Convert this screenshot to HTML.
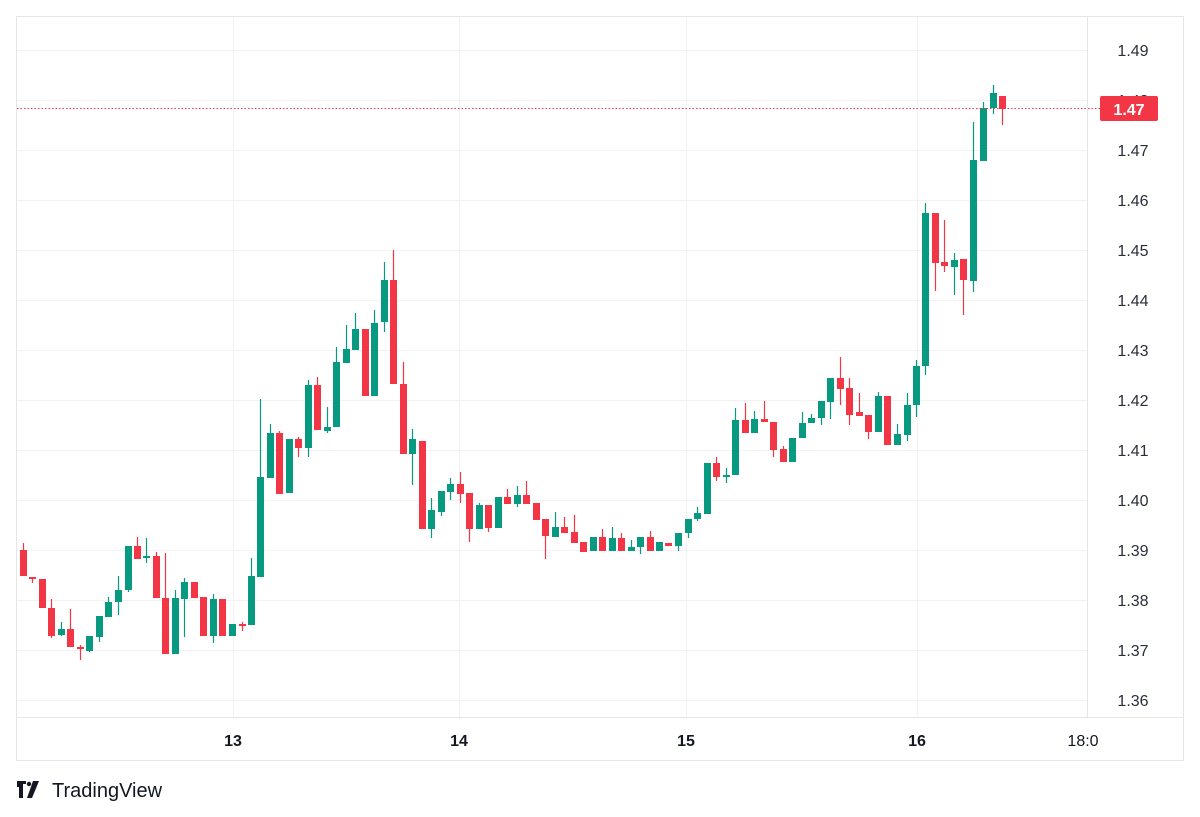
<!DOCTYPE html>
<html><head><meta charset="utf-8"><style>
html,body{margin:0;padding:0;background:#fff;width:1200px;height:817px;overflow:hidden}
svg{display:block}
text{font-family:"Liberation Sans",sans-serif;}
</style></head><body>
<svg width="1200" height="817" viewBox="0 0 1200 817" xmlns="http://www.w3.org/2000/svg">
<rect x="16.5" y="16.5" width="1167" height="744" fill="#fff" stroke="#e6e6e6"/>
<g stroke="#f2f2f2" stroke-width="1">
<line x1="17" y1="50.5" x2="1087" y2="50.5"/><line x1="17" y1="100.5" x2="1087" y2="100.5"/>
<line x1="17" y1="150.5" x2="1087" y2="150.5"/><line x1="17" y1="200.5" x2="1087" y2="200.5"/>
<line x1="17" y1="250.5" x2="1087" y2="250.5"/><line x1="17" y1="300.5" x2="1087" y2="300.5"/>
<line x1="17" y1="350.5" x2="1087" y2="350.5"/><line x1="17" y1="400.5" x2="1087" y2="400.5"/>
<line x1="17" y1="450.5" x2="1087" y2="450.5"/><line x1="17" y1="500.5" x2="1087" y2="500.5"/>
<line x1="17" y1="550.5" x2="1087" y2="550.5"/><line x1="17" y1="600.5" x2="1087" y2="600.5"/>
<line x1="17" y1="650.5" x2="1087" y2="650.5"/><line x1="17" y1="700.5" x2="1087" y2="700.5"/>
<line x1="233.5" y1="17" x2="233.5" y2="717"/><line x1="459.5" y1="17" x2="459.5" y2="717"/>
<line x1="686.5" y1="17" x2="686.5" y2="717"/><line x1="917.5" y1="17" x2="917.5" y2="717"/>
</g>
<line x1="17" y1="717.5" x2="1183" y2="717.5" stroke="#e6e6e6"/>
<line x1="1087.5" y1="17" x2="1087.5" y2="717" stroke="#e6e6e6"/>
<g id="c"></g>
<line x1="17" y1="108.5" x2="1100" y2="108.5" stroke="#f23645" stroke-dasharray="1.5,2"/>
<g font-size="16" fill="#2a2e39" text-anchor="middle">
<text x="1133" y="56">1.49</text><text x="1133" y="106">1.48</text>
<text x="1133" y="156">1.47</text><text x="1133" y="206">1.46</text>
<text x="1133" y="256">1.45</text><text x="1133" y="306">1.44</text>
<text x="1133" y="356">1.43</text><text x="1133" y="406">1.42</text>
<text x="1133" y="456">1.41</text><text x="1133" y="506">1.40</text>
<text x="1133" y="556">1.39</text><text x="1133" y="606">1.38</text>
<text x="1133" y="656">1.37</text><text x="1133" y="706">1.36</text>
</g>
<rect x="1100" y="96" width="58" height="25" rx="2" fill="#f23645"/>
<text x="1129" y="115" font-size="16" font-weight="bold" fill="#fff" text-anchor="middle">1.47</text>
<g font-size="16" fill="#131722" text-anchor="middle">
<text x="233" y="746" font-weight="bold">13</text>
<text x="459" y="746" font-weight="bold">14</text>
<text x="686" y="746" font-weight="bold">15</text>
<text x="917" y="746" font-weight="bold">16</text>
<text x="1083" y="746">18:0</text>
</g>
<g fill="#131722">
<path d="M17 781h9v3h-3v14h-4v-11h-2z"/>
<circle cx="29" cy="784" r="2.2"/>
<path d="M33 781h6l-7 17h-5z"/>
</g>
<text x="52" y="797" font-size="20" fill="#131722">TradingView</text>
</svg>
<script>
var d=[
[23,'r',550,576,543,576],[32,'r',577,579,577,583],[42,'r',579,608,579,608],[51,'r',608,636,599,638],
[61,'g',629,635,622,636],[70,'r',629,647,609,647],[80,'r',647,649,645,660],[89,'g',636,651,636,652],
[99,'g',616,637,616,642],[108,'g',602,617,597,617],[118,'g',590,602,576,615],[128,'g',546,590,546,592],
[137,'r',546,559,537,559],[146,'g',556,558,538,563],[156,'r',556,598,552,598],[165,'r',598,654,553,654],
[175,'g',598,654,590,654],[184,'g',582,599,578,637],[194,'r',582,598,582,598],[203,'r',597,636,597,636],
[213,'g',599,636,594,643],[222,'r',599,636,599,636],[232,'g',624,636,624,636],[242,'r',624,626,622,631],
[251,'g',576,625,558,625],[260,'g',477,577,399,577],[270,'g',433,478,424,478],[279,'r',433,494,431,494],
[289,'g',439,493,439,493],[298,'r',439,448,437,457],[308,'g',385,448,380,457],[317,'r',385,430,377,430],
[327,'g',427,431,407,433],[336,'g',362,427,347,427],[346,'g',349,363,325,363],[355,'g',329,350,313,350],
[365,'r',329,396,329,396],[374,'g',323,396,310,396],[384,'g',280,322,262,332],[393,'r',280,384,250,384],
[403,'r',384,454,362,454],[412,'g',439,454,429,485],[422,'r',441,529,441,529],[431,'g',510,529,498,538],
[441,'g',491,512,491,516],[450,'g',484,492,478,500],[460,'r',484,494,472,503],[469,'r',493,529,493,542],
[479,'g',505,529,503,529],[488,'r',505,528,505,532],[498,'g',497,528,497,528],[507,'r',497,504,489,504],
[517,'g',495,504,486,507],[526,'r',495,504,481,504],[536,'r',503,520,503,520],[545,'r',519,536,519,559],
[555,'g',527,537,512,537],[564,'r',527,533,517,533],[574,'r',532,543,515,543],[583,'r',542,552,542,552],
[593,'g',537,551,537,551],[602,'r',537,551,529,551],[612,'g',538,551,527,551],[621,'r',538,551,533,551],
[631,'g',547,551,540,551],[640,'g',537,547,537,554],[650,'r',537,551,531,551],[659,'g',542,551,542,551],
[668,'r',543,546,543,546],[678,'g',533,546,533,551],[688,'g',519,533,519,538],[697,'g',513,519,507,521],
[707,'g',463,514,463,514],[716,'r',463,477,457,481],[726,'g',475,476,468,483],[735,'g',420,475,408,475],
[745,'r',420,433,403,433],[754,'g',419,433,411,433],[764,'r',419,422,401,422],[773,'r',422,450,422,457],
[783,'r',449,462,446,462],[792,'g',438,462,438,462],[802,'g',423,438,412,438],[811,'g',418,423,414,423],
[821,'g',401,418,401,425],[830,'g',378,402,378,419],[840,'r',378,389,357,405],[849,'r',388,415,378,425],
[859,'r',412,416,393,416],[868,'r',415,432,415,439],[878,'g',396,432,392,432],[887,'r',396,445,396,445],
[897,'g',434,445,424,445],[907,'g',405,435,393,441],[916,'g',366,405,360,417],[925,'g',213,366,203,375],
[935,'r',213,263,213,291],[944,'r',262,266,220,272],[954,'g',260,267,253,295],[963,'r',259,280,259,315],
[973,'g',160,281,122,292],[983,'g',108,161,102,161],[993,'g',93,108,85,114],[1002,'r',96,109,96,125]];
var s='';
d.forEach(function(c){var col=c[1]=='g'?'#089981':'#f23645';var h=Math.max(2,c[3]-c[2]);
s+='<line x1="'+(c[0]+0.5)+'" x2="'+(c[0]+0.5)+'" y1="'+c[4]+'" y2="'+c[5]+'" stroke="'+col+'" stroke-width="1.2"/>';
s+='<rect x="'+(c[0]-3)+'" y="'+c[2]+'" width="7" height="'+h+'" fill="'+col+'"/>';});
document.getElementById('c').innerHTML=s;
</script>
</body></html>
